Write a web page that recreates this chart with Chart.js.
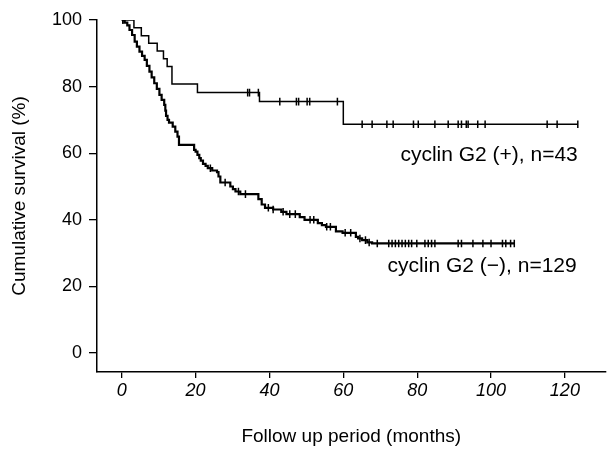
<!DOCTYPE html>
<html>
<head>
<meta charset="utf-8">
<script src="https://cdn.jsdelivr.net/npm/chart.js@4/dist/chart.umd.min.js"></script>
<style>
  html, body { margin: 0; padding: 0; background: #fff; }
  #wrap { position: relative; width: 611px; height: 451px; }
</style>
</head>
<body>
<div id="wrap"><canvas id="c" width="611" height="451"></canvas></div>
<script>
// ---- Data ----
const xTickValues = [0, 20, 40, 60, 80, 100, 120];
const yTickValues = [0, 20, 40, 60, 80, 100];

// cyclin G2 (+), n=43 : event times (months) and survival (%) after each step
const posTimes = [0, 3.3, 5.3, 7.3, 9.6, 11.3, 12.3, 13.6, 20.5, 37.3, 60.0, 123.5];
const posSurv  = [100, 97.7, 95.3, 93.0, 90.7, 88.4, 86.0, 80.8, 78.2, 75.5, 68.7, 68.7];
const posCensor = [0.3, 34.1, 34.6, 37.0, 42.8, 47.3, 47.9, 50.2, 50.9, 58.4,
  65.1, 67.8, 71.8, 73.5, 79.0, 80.3, 84.8, 88.4, 91.1, 92.0, 93.3, 93.8, 96.4, 98.4,
  115.2, 117.9, 123.5];

// cyclin G2 (-), n=129
const negTimes = [0, 0.8, 1.5, 2.1, 2.8, 3.5, 4.1, 4.8, 5.5, 6.2, 6.8, 7.5, 8.1, 8.8, 9.5,
  10.2, 10.8, 11.5, 11.8, 12.0, 12.4, 12.8, 13.8, 14.5, 15.1, 15.5, 19.6, 20.0, 20.5, 21.0, 21.4, 22.0,
  22.7, 23.3, 24.5, 25.8, 26.2, 26.7, 29.4, 30.1, 30.8, 32.1, 37.0, 37.9, 38.8, 41.0, 43.2,
  44.6, 48.2, 49.5, 53.1, 54.2, 55.3, 58.0, 59.8, 63.4, 64.0, 65.1, 66.5, 67.8, 106.3];
const negSurv = [100, 99.2, 98.4, 97.0, 95.5, 93.5, 92.0, 90.5, 89.2, 88.0, 86.2, 84.5, 82.8, 81.0, 79.3,
  77.5, 76.0, 74.5, 72.8, 71.2, 70.0, 69.2, 68.0, 66.5, 65.0, 62.5, 61.0, 60.5, 59.5, 58.5, 57.8, 56.8,
  56.2, 55.5, 54.8, 54.3, 53.0, 51.2, 50.0, 49.2, 48.5, 47.7, 46.2, 44.6, 43.6, 43.1, 42.4,
  41.7, 40.8, 40.0, 39.0, 38.4, 37.9, 36.5, 36.1, 34.9, 34.4, 33.9, 33.2, 32.9, 32.9];
const negCensor = [0.3, 24.0, 28.0, 31.6, 33.5, 39.7, 41.0, 43.7, 45.5, 47.0, 51.0, 52.0,
  55.5, 56.5, 60.5, 62.0, 64.5, 66.0, 67.0,
  69.2, 72.3, 73.2, 74.1, 75.0, 75.9, 76.8, 77.7, 78.5, 79.9, 82.1, 83.0, 83.9, 84.8,
  91.1, 92.0, 95.1, 97.8, 100.0, 103.1, 104.0, 105.3, 106.3];

const labelPos = "cyclin G2 (+), n=43";
const labelNeg = "cyclin G2 (\u2212), n=129";
const xTitle = "Follow up period (months)";
const yTitle = "Cumulative survival (%)";

// ---- Build library data ----
function toPoints(ts, ss) { return ts.map((t, i) => ({ x: t, y: ss[i] })); }
function survAt(ts, ss, t) {
  let v = ss[0];
  for (let i = 0; i < ts.length; i++) { if (ts[i] <= t) v = ss[i]; }
  return v;
}
function censorPoints(cs, ts, ss) { return cs.map(t => ({ x: t, y: survAt(ts, ss, t) })); }

const FONT = "'Liberation Sans', Arial, sans-serif";

const textPlugin = {
  id: 'curveLabels',
  afterDatasetsDraw(chart) {
    const ctx = chart.ctx;
    const xs = chart.scales.x, ys = chart.scales.y;
    ctx.save();
    ctx.fillStyle = '#000';
    ctx.font = '21px ' + FONT;
    ctx.textAlign = 'right';
    ctx.textBaseline = 'middle';
    ctx.fillText(labelPos, xs.getPixelForValue(123.5), ys.getPixelForValue(59.3));
    ctx.fillText(labelNeg, xs.getPixelForValue(123.2), ys.getPixelForValue(26.2));
    ctx.restore();
  }
};

new Chart(document.getElementById('c'), {
  type: 'line',
  data: {
    datasets: [
      { data: toPoints(posTimes, posSurv), stepped: 'before', borderColor: '#000',
        borderWidth: 1.5, pointRadius: 0, fill: false },
      { data: toPoints(negTimes, negSurv), stepped: 'before', borderColor: '#000',
        borderWidth: 2.2, pointRadius: 0, fill: false },
      { data: censorPoints(posCensor, posTimes, posSurv), showLine: false,
        pointStyle: 'line', rotation: 90, pointRadius: 3.8, borderColor: '#000',
        borderWidth: 1.5, backgroundColor: '#000' },
      { data: censorPoints(negCensor, negTimes, negSurv), showLine: false,
        pointStyle: 'line', rotation: 90, pointRadius: 3.8, borderColor: '#000',
        borderWidth: 1.5, backgroundColor: '#000' }
    ]
  },
  options: {
    responsive: false,
    animation: false,
    devicePixelRatio: 1,
    layout: { padding: { top: 20, right: 0, left: 0, bottom: 0 } },
    plugins: { legend: { display: false }, tooltip: { enabled: false } },
    scales: {
      x: {
        type: 'linear', min: -6.7, max: 131,
        afterBuildTicks: s => { s.ticks = xTickValues.map(v => ({ value: v })); },
        afterFit: s => { s.height = 79; },
        grid: { drawOnChartArea: false, drawTicks: true, tickLength: 6, color: '#000', lineWidth: 1.3 },
        border: { display: true, color: '#000', width: 1.5 },
        ticks: { color: '#000', padding: 2, maxRotation: 0,
          font: { family: FONT, size: 18, style: 'italic' } },
        title: { display: true, text: xTitle, color: '#000',
          font: { family: FONT, size: 19 }, padding: { top: 4, bottom: 3 } }
      },
      y: {
        type: 'linear', min: -5.7, max: 100,
        afterBuildTicks: s => { s.ticks = yTickValues.map(v => ({ value: v })); },
        afterFit: s => { s.width = 97; },
        grid: { drawOnChartArea: false, drawTicks: true, tickLength: 8, color: '#000', lineWidth: 1.3 },
        border: { display: true, color: '#000', width: 1.5 },
        ticks: { color: '#000', padding: 7,
          font: { family: FONT, size: 18 } },
        title: { display: true, text: yTitle, color: '#000',
          font: { family: FONT, size: 19 }, padding: { top: 8, bottom: 4 } }
      }
    }
  },
  plugins: [textPlugin]
});
</script>
</body>
</html>
